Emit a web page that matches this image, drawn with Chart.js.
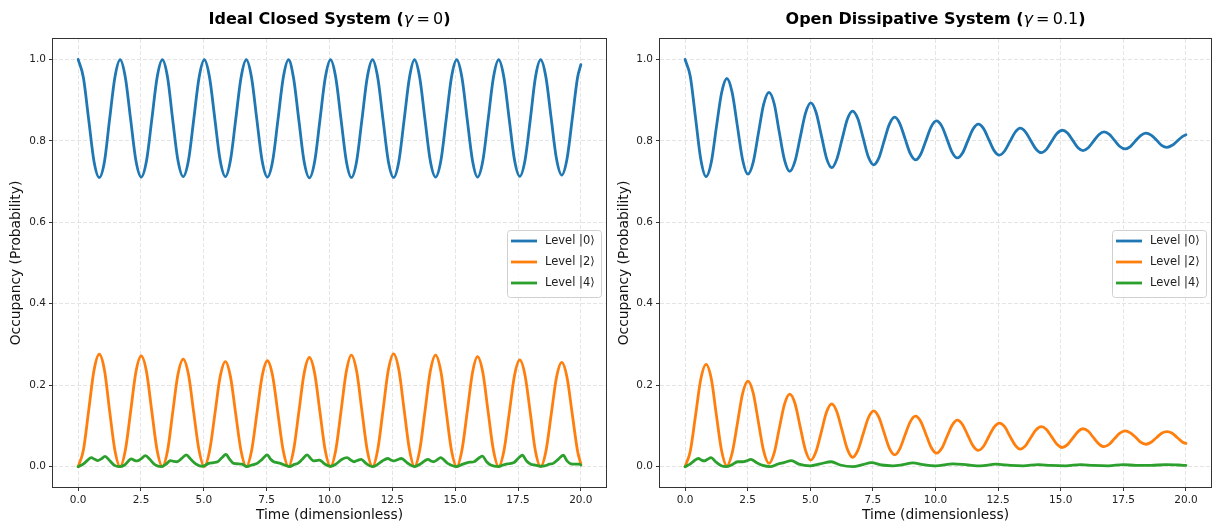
<!DOCTYPE html>
<html><head><meta charset="utf-8">
<script src="https://cdn.jsdelivr.net/npm/chart.js@4.4.0/dist/chart.umd.min.js"></script>
<style>
html,body{margin:0;padding:0;background:#fff;width:1212px;height:524px;overflow:hidden;}
#wrapL{position:absolute;left:0;top:0;width:612px;height:524px;}
#wrapR{position:absolute;left:612px;top:0;width:600px;height:524px;}
canvas{display:block;}
</style></head><body>
<div id="wrapL"><canvas id="cL" width="612" height="524" style="width:612px;height:524px"></canvas></div>
<div id="wrapR"><canvas id="cR" width="600" height="524" style="width:600px;height:524px"></canvas></div>
<script>
// ---------------- data ----------------
const seriesLabels = ["Level |0\u27E9", "Level |2\u27E9", "Level |4\u27E9"];
const xTicks = [0, 2.5, 5, 7.5, 10, 12.5, 15, 17.5, 20];
const yTicks = [0, 0.2, 0.4, 0.6, 0.8, 1.0];
const leftTitleParts = ["Ideal Closed System (", "\u03B3", "\u2009=\u2009", "0", ")"];
const rightTitleParts = ["Open Dissipative System (", "\u03B3", "\u2009=\u2009", "0.1", ")"];
const xLabel = "Time (dimensionless)";
const yLabel = "Occupancy (Probability)";

const tGrid = [0.00,0.21,0.42,0.63,0.84,1.05,1.25,1.46,
1.67,1.88,2.09,2.30,2.51,2.72,2.93,3.14,
3.35,3.56,3.76,3.97,4.18,4.39,4.60,4.81,
5.02,5.23,5.44,5.65,5.86,6.06,6.27,6.48,
6.69,6.90,7.11,7.32,7.53,7.74,7.95,8.16,
8.37,8.57,8.78,8.99,9.20,9.41,9.62,9.83,
10.04,10.25,10.46,10.67,10.87,11.08,11.29,11.50,
11.71,11.92,12.13,12.34,12.55,12.76,12.97,13.18,
13.38,13.59,13.80,14.01,14.22,14.43,14.64,14.85,
15.06,15.27,15.48,15.69,15.89,16.10,16.31,16.52,
16.73,16.94,17.15,17.36,17.57,17.78,17.99,18.19,
18.40,18.61,18.82,19.03,19.24,19.45,19.66,19.87,
20.00];

const closedLevel0 = [1.000,0.955,0.852,0.750,0.710,0.750,0.852,0.955,
0.999,0.955,0.852,0.751,0.711,0.751,0.852,0.955,
0.999,0.955,0.853,0.752,0.712,0.752,0.853,0.955,
0.999,0.955,0.853,0.752,0.712,0.752,0.853,0.955,
0.999,0.955,0.852,0.751,0.711,0.751,0.852,0.955,
0.999,0.954,0.851,0.749,0.709,0.749,0.851,0.954,
0.999,0.955,0.852,0.750,0.710,0.750,0.852,0.955,
0.999,0.955,0.852,0.750,0.710,0.750,0.852,0.955,
0.999,0.955,0.852,0.751,0.711,0.751,0.852,0.955,
0.999,0.955,0.852,0.751,0.711,0.751,0.852,0.955,
0.999,0.955,0.853,0.753,0.713,0.753,0.853,0.955,
0.999,0.956,0.855,0.756,0.716,0.756,0.855,0.956,
0.987];

const closedLevel2 = [0.000,0.041,0.138,0.236,0.276,0.236,0.138,0.041,
0.000,0.041,0.136,0.233,0.272,0.233,0.136,0.041,
0.000,0.040,0.132,0.226,0.264,0.226,0.132,0.040,
0.000,0.039,0.129,0.221,0.258,0.221,0.129,0.039,
0.000,0.039,0.130,0.222,0.260,0.222,0.130,0.039,
0.000,0.040,0.134,0.229,0.268,0.229,0.134,0.040,
0.000,0.041,0.137,0.234,0.274,0.234,0.137,0.041,
0.000,0.042,0.139,0.237,0.277,0.237,0.139,0.042,
0.000,0.041,0.137,0.234,0.274,0.234,0.137,0.041,
0.000,0.041,0.135,0.231,0.270,0.231,0.135,0.041,
0.000,0.039,0.131,0.224,0.262,0.224,0.131,0.039,
0.000,0.038,0.128,0.219,0.256,0.219,0.128,0.038,
0.006];

const closedLevel4T = [0,0.2,0.38,0.52,0.66,0.78,0.92,1.07,1.25,1.45,1.62,
1.85,2.0,2.11,2.22,2.34,2.5,2.68,2.85,3.05,3.3,
3.5,3.67,3.8,3.93,4.12,4.3,4.48,4.7,4.95,
5.2,5.39,5.55,5.72,5.88,6.03,6.19,6.36,6.52,6.72,
6.9,7.09,7.32,7.52,7.66,7.78,7.92,8.05,8.25,8.42,
8.58,8.74,8.92,9.11,9.25,9.37,9.48,9.6,9.8,10.04,
10.25,10.5,10.7,10.85,10.97,11.1,11.26,11.45,11.7,
11.9,12.1,12.32,12.45,12.56,12.7,12.86,13.1,13.38,
13.6,13.78,13.92,14.03,14.13,14.27,14.42,14.7,15.06,
15.25,15.49,15.62,15.75,15.92,16.08,16.25,16.41,16.73,
16.9,17.08,17.34,17.5,17.67,17.84,18.01,18.2,18.4,
18.56,18.75,18.9,19.1,19.3,19.45,19.6,19.8,19.93,20.0];
const closedLevel4 = [0,0.006,0.016,0.022,0.018,0.015,0.019,0.025,0.015,0.003,0.0,
0.004,0.014,0.019,0.016,0.014,0.019,0.027,0.018,0.005,0.0,
0.006,0.015,0.013,0.012,0.020,0.029,0.018,0.006,0.001,
0.008,0.010,0.012,0.022,0.030,0.018,0.008,0.007,0.006,0.0,
0.004,0.007,0.018,0.029,0.018,0.012,0.010,0.008,0.003,0.0,
0.005,0.008,0.018,0.029,0.020,0.014,0.015,0.016,0.007,0.001,
0.006,0.018,0.022,0.016,0.012,0.015,0.018,0.008,0.0,
0.005,0.014,0.020,0.016,0.014,0.017,0.020,0.009,0.0,
0.006,0.014,0.018,0.014,0.012,0.016,0.022,0.008,0.0,
0.005,0.010,0.011,0.012,0.020,0.026,0.012,0.004,0.0,
0.004,0.007,0.010,0.020,0.028,0.014,0.006,0.004,0.001,
0.002,0.006,0.008,0.018,0.028,0.014,0.007,0.006,0.006,0.004];

const openLevel0 = [1.000,0.958,0.856,0.754,0.712,0.748,0.833,0.918,
0.953,0.919,0.836,0.753,0.718,0.747,0.819,0.890,
0.919,0.891,0.822,0.753,0.725,0.750,0.809,0.868,
0.893,0.870,0.814,0.757,0.734,0.755,0.804,0.853,
0.873,0.854,0.807,0.760,0.741,0.758,0.800,0.841,
0.858,0.843,0.806,0.769,0.753,0.767,0.801,0.835,
0.849,0.836,0.804,0.771,0.758,0.770,0.800,0.829,
0.841,0.830,0.803,0.776,0.765,0.775,0.798,0.821,
0.831,0.822,0.801,0.780,0.771,0.779,0.799,0.818,
0.826,0.819,0.801,0.783,0.776,0.783,0.799,0.815,
0.822,0.816,0.801,0.786,0.780,0.786,0.800,0.813,
0.819,0.814,0.802,0.789,0.784,0.789,0.800,0.811,
0.815];

const openLevel2 = [0.000,0.038,0.126,0.215,0.251,0.215,0.127,0.039,
0.002,0.033,0.106,0.180,0.210,0.181,0.109,0.038,
0.008,0.034,0.093,0.153,0.178,0.155,0.097,0.040,
0.016,0.037,0.085,0.134,0.154,0.135,0.089,0.043,
0.023,0.040,0.080,0.120,0.137,0.121,0.083,0.045,
0.029,0.043,0.077,0.110,0.124,0.111,0.079,0.047,
0.033,0.045,0.074,0.102,0.114,0.103,0.077,0.051,
0.040,0.050,0.074,0.097,0.107,0.098,0.075,0.053,
0.043,0.051,0.071,0.090,0.098,0.091,0.073,0.055,
0.047,0.054,0.070,0.086,0.093,0.087,0.071,0.056,
0.049,0.055,0.069,0.082,0.088,0.083,0.072,0.060,
0.055,0.060,0.071,0.082,0.086,0.082,0.071,0.060,
0.057];

const openLevel4T = [0,0.2,0.38,0.53,0.66,0.76,0.9,1.04,1.22,1.45,1.65,
1.85,2.1,2.3,2.45,2.63,2.85,3.1,3.4,
3.7,3.95,4.25,4.55,5.0,5.4,5.84,6.2,6.7,
7.1,7.44,7.85,8.3,8.7,9.1,9.5,10.0,
10.7,11.3,11.8,12.4,13.0,13.5,14.1,14.6,15.2,15.8,16.3,16.9,17.5,18.0,18.6,19.2,19.7,20.0];
const openLevel4 = [0,0.006,0.015,0.020,0.016,0.014,0.018,0.022,0.012,0.002,0.0,
0.004,0.012,0.012,0.014,0.018,0.010,0.003,0.0,
0.006,0.010,0.015,0.006,0.002,0.007,0.012,0.004,0.0,
0.005,0.010,0.004,0.002,0.005,0.009,0.005,0.002,
0.007,0.004,0.002,0.006,0.003,0.002,0.005,0.003,0.002,0.005,0.003,0.002,0.005,0.003,0.003,0.005,0.004,0.003];

// ---------------- rendering ----------------
const FONT = "'DejaVu Sans', 'Liberation Sans', sans-serif";
const COLORS = ['#1f77b4', '#ff7f0e', '#2ca02c'];
const pts = (xs, ys) => xs.map((x, i) => ({x: x, y: ys[i]}));

const titlePlugin = {
  id: 'mixedTitle',
  afterDraw(chart, args, opts) {
    const ctx = chart.ctx;
    const styles = ['bold', 'italic', 'normal', 'normal', 'bold'];
    const parts = opts.parts.map((t, i) => ({t: t, f: styles[i] + ' 16px ' + FONT}));
    ctx.save();
    ctx.fillStyle = '#000';
    ctx.textBaseline = 'alphabetic';
    let total = 0;
    parts.forEach(p => { ctx.font = p.f; p.w = ctx.measureText(p.t).width; total += p.w; });
    let x = (chart.chartArea.left + chart.chartArea.right) / 2 - total / 2;
    parts.forEach(p => { ctx.font = p.f; ctx.fillText(p.t, x, 24); x += p.w; });
    ctx.restore();
  }
};

const framePlugin = {
  id: 'frame',
  afterDraw(chart) {
    const ctx = chart.ctx, a = chart.chartArea;
    ctx.save();
    ctx.strokeStyle = '#333';
    ctx.lineWidth = 1;
    const l = Math.round(a.left) - 0.5, t = Math.round(a.top) - 0.5;
    const r = Math.round(a.right) + 0.5, b = Math.round(a.bottom) + 0.5;
    ctx.strokeRect(l, t, r - l, b - t);
    ctx.restore();
  }
};

const legendPlugin = {
  id: 'boxLegend',
  afterDraw(chart) {
    const ctx = chart.ctx, a = chart.chartArea;
    const w = 94, h = 67, top = 230;
    const left = a.right - 5 - w;
    ctx.save();
    ctx.beginPath();
    if (ctx.roundRect) ctx.roundRect(left + 0.5, top + 0.5, w, h, 3); else ctx.rect(left + 0.5, top + 0.5, w, h);
    ctx.fillStyle = 'rgba(255,255,255,0.8)';
    ctx.fill();
    ctx.strokeStyle = '#d0d0d0';
    ctx.lineWidth = 1;
    ctx.stroke();
    ctx.font = '11.5px ' + FONT;
    ctx.textBaseline = 'middle';
    chart.data.datasets.forEach((ds, i) => {
      const y = top + 11 + i * 21;
      ctx.strokeStyle = ds.borderColor;
      ctx.lineWidth = 2.8;
      ctx.beginPath();
      ctx.moveTo(left + 4, y);
      ctx.lineTo(left + 30, y);
      ctx.stroke();
      ctx.fillStyle = '#222';
      ctx.fillText(ds.label, left + 38, y + 0.5);
    });
    ctx.restore();
  }
};

function makeChart(canvasId, titleParts, s0, s2, g4T, g4, yAxisWidth, yTitlePad, rightPad) {
  const datasets = [
    {label: seriesLabels[0], data: pts(tGrid, s0), borderColor: COLORS[0], order: 3},
    {label: seriesLabels[1], data: pts(tGrid, s2), borderColor: COLORS[1], order: 2},
    {label: seriesLabels[2], data: pts(g4T, g4), borderColor: COLORS[2], order: 1}
  ].map(d => Object.assign(d, {borderWidth: 2.8, pointRadius: 0, fill: false, cubicInterpolationMode: 'monotone', borderCapStyle: 'round', borderJoinStyle: 'round'}));

  const tickFont = {family: FONT, size: 10.5};
  const titleFont = {family: FONT, size: 13.8};
  const gridCfg = {color: '#e4e4e4', lineWidth: 1, tickColor: '#333', tickLength: 4, tickWidth: 1, tickBorderDash: []};
  return new Chart(document.getElementById(canvasId), {
    type: 'line',
    data: {datasets: datasets},
    options: {
      responsive: false,
      animation: false,
      devicePixelRatio: 1,
      layout: {padding: {top: 39, right: rightPad, left: 0, bottom: 0}},
      plugins: {
        legend: {display: false},
        tooltip: {enabled: false},
        mixedTitle: {parts: titleParts}
      },
      scales: {
        x: {
          type: 'linear', min: -1, max: 21,
          afterBuildTicks: s => { s.ticks = xTicks.map(v => ({value: v})); },
          afterFit: s => { s.height = 37; },
          ticks: {font: tickFont, color: '#222', padding: 3, maxRotation: 0, callback: v => Number(v).toFixed(1)},
          grid: gridCfg,
          border: {display: false, color: '#333', width: 1, dash: [4, 2]},
          title: {display: true, text: xLabel, font: titleFont, color: '#111', padding: {top: 0, bottom: 0}}
        },
        y: {
          type: 'linear', min: -0.05, max: 1.05,
          afterBuildTicks: s => { s.ticks = yTicks.map(v => ({value: v})); },
          afterFit: s => { s.width = yAxisWidth; },
          ticks: {font: tickFont, color: '#222', padding: 3, callback: v => Number(v).toFixed(1)},
          grid: gridCfg,
          border: {display: false, color: '#333', width: 1, dash: [4, 2]},
          title: {display: true, text: yLabel, font: titleFont, color: '#111', padding: {top: yTitlePad, bottom: 0}}
        }
      }
    },
    plugins: [titlePlugin, legendPlugin, framePlugin]
  });
}

makeChart('cL', leftTitleParts, closedLevel0, closedLevel2, closedLevel4T, closedLevel4, 53, 7.7, 6);
makeChart('cR', rightTitleParts, openLevel0, openLevel2, openLevel4T, openLevel4, 48, 3.7, 1);
</script>
</body></html>
